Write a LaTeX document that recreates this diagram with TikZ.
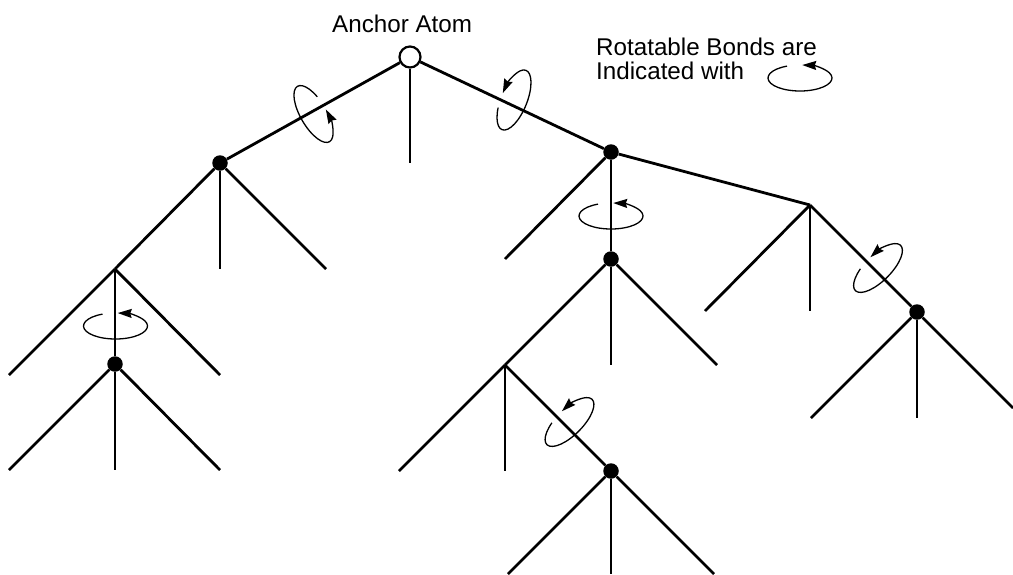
\documentclass[tikz,border=0pt]{standalone}
\usepackage{fontspec}
\setmainfont{Liberation Sans}
\usetikzlibrary{arrows.meta}
\tikzset{
tree/.style={
    x=1pt,
    y=-1pt,
    font=\fontsize{24.2}{24}\selectfont
},
anchoratom/.style={
    circle,
    draw,
    line width=2.2pt,
    minimum size=21pt,
    inner sep=0pt,
    fill=white
},
atom/.style={
    circle,
    fill=black,
    minimum size=15.5pt,
    inner sep=0pt
},
label/.style={
    inner sep=0pt,
    anchor=base west,
    align=left
},
bond/.style={
    line width=2.8pt
},
spin/.style={
    line width=1.3pt,
    -{Stealth[length=14pt,width=9pt,inset=1.5pt]}
}}

\begin{document}
\begin{tikzpicture}[tree]
\useasboundingbox (0,0) rectangle (1013,574);

\node[anchoratom]    (top)    at (410,57)     {};
\node[atom]          (a1)     at (220,163)    {};
\node[atom]          (a2)     at (611,152)    {};
\node[atom]          (a3)     at (115,364)    {};
\node[atom]          (a4)     at (611,259)    {};
\node[atom]          (a5)     at (917,312)    {};
\node[atom]          (a6)     at (611,471)    {};

\coordinate    (j1)     at (115,269);
\coordinate    (j2)     at (810,205);
\coordinate    (j3)     at (505,365);

\coordinate    (e0)     at (410,163);
\coordinate    (e1)     at (220,269);
\coordinate    (e2)     at (326,269);
\coordinate    (e3)     at (9,375);
\coordinate    (e4)     at (220,375);
\coordinate    (e5)     at (9,470);
\coordinate    (e6)     at (115,470);
\coordinate    (e7)     at (220,470);
\coordinate    (e8)     at (505,259);
\coordinate    (e9)     at (611,365);
\coordinate    (e10)    at (717,365);
\coordinate    (e11)    at (399,471);
\coordinate    (e12)    at (505,471);
\coordinate    (e13)    at (508,574);
\coordinate    (e14)    at (611,574);
\coordinate    (e15)    at (714,574);
\coordinate    (e16)    at (705,311);
\coordinate    (e17)    at (810,311);
\coordinate    (e18)    at (811,418);
\coordinate    (e19)    at (917,418);
\coordinate    (e20)    at (1013,408);

\path[bond]    (top)    edge    (a1);
\path[bond]    (top)    edge    (e0);
\path[bond]    (top)    edge    (a2);

\path[bond]    (a1)     edge    (j1);
\path[bond]    (a1)     edge    (e1);
\path[bond]    (a1)     edge    (e2);
\path[bond]    (j1)     edge    (e3);
\path[bond]    (j1)     edge    (a3);
\path[bond]    (j1)     edge    (e4);
\path[bond]    (a3)     edge    (e5);
\path[bond]    (a3)     edge    (e6);
\path[bond]    (a3)     edge    (e7);

\path[bond]    (a2)     edge    (e8);
\path[bond]    (a2)     edge    (a4);
\path[bond]    (a2)     edge    (j2);
\path[bond]    (a4)     edge    (j3);
\path[bond]    (a4)     edge    (e9);
\path[bond]    (a4)     edge    (e10);
\path[bond]    (j3)     edge    (e11);
\path[bond]    (j3)     edge    (e12);
\path[bond]    (j3)     edge    (a6);
\path[bond]    (a6)     edge    (e13);
\path[bond]    (a6)     edge    (e14);
\path[bond]    (a6)     edge    (e15);

\path[bond]    (j2)     edge    (e16);
\path[bond]    (j2)     edge    (e17);
\path[bond]    (j2)     edge    (a5);
\path[bond]    (a5)     edge    (e18);
\path[bond]    (a5)     edge    (e19);
\path[bond]    (a5)     edge    (e20);

\draw[spin, shift={(800,78)}]               (-114:32 and 13) arc[start angle=-114, end angle=-446, x radius=32, y radius=13];
\draw[spin, shift={(115.5,326)}]            (-114:32 and 13) arc[start angle=-114, end angle=-446, x radius=32, y radius=13];
\draw[spin, shift={(611,216)}]              (-114:32 and 13) arc[start angle=-114, end angle=-446, x radius=32, y radius=13];
\draw[spin, shift={(569.5,422)}, rotate=45] (-114:32 and 13) arc[start angle=-114, end angle=-446, x radius=32, y radius=13];
\draw[spin, shift={(878,268)}, rotate=45]   (-114:32 and 13) arc[start angle=-114, end angle=-446, x radius=32, y radius=13];
\draw[spin, shift={(514,100)}, rotate=68]   (-114:32 and 13) arc[start angle=-114, end angle=-446, x radius=32, y radius=13];
\draw[spin, shift={(313.5,114)}, rotate=-60] (-114:32 and 13) arc[start angle=-114, end angle=-446, x radius=32, y radius=13];

\node[label]    (title)    at (332,32)    {Anchor Atom};
\node[label]    (legend)   at (596,79)    {Rotatable Bonds are\\Indicated with};
\end{tikzpicture}
\end{document}
